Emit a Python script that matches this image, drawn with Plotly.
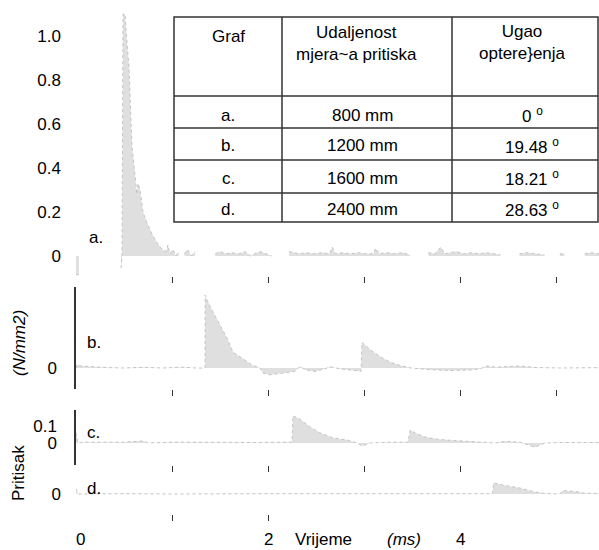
import plotly.graph_objects as go

W, H = 599, 550

# ---------------- data ----------------
N = None
t_a = [0.000, 0.030, N,
       0.469, 0.479, 0.490, 0.510, 0.531, 0.552, 0.583, 0.615, 0.635, 0.646, 0.667, 0.698,
       0.740, 0.792, 0.844, 0.896, 0.938, 0.958, 0.979, 1.010, 1.040, 1.070, N,
       1.130, 1.160, 1.200, 1.240, N,
       1.450, 1.500, 1.560, 1.620, 1.700, 1.760, 1.820, 1.860, 1.920, 1.980, 2.040, N,
       2.220, 2.260, 2.320, 2.400, 2.480, 2.560, 2.640, 2.670, 2.700, 2.780, 2.860, 2.940,
       3.020, 3.100, 3.120, 3.160, 3.240, 3.320, 3.400, 3.480, N,
       3.670, 3.740, 3.800, 3.840, 3.900, 3.960, 4.040, 4.120, 4.200, 4.280, 4.360, 4.420, N,
       4.620, 4.700, 4.780, 4.880, N,
       5.040, 5.090, N,
       5.300, 5.360, 5.450]
v_a = [-0.085, -0.085, N,
       -0.055, 0.0, 1.10, 1.10, 0.97, 0.86, 0.50, 0.36, 0.28, 0.33, 0.30, 0.20,
       0.15, 0.10, 0.06, 0.03, 0.02, 0.05, 0.01, 0.03, 0.0, 0.02, N,
       0.01, 0.03, 0.0, 0.02, N,
       0.01, 0.02, 0.01, 0.015, 0.01, 0.02, 0.0, 0.01, 0.02, 0.01, 0.0, N,
       0.02, 0.015, 0.01, 0.015, 0.01, 0.015, 0.01, 0.04, 0.01, 0.015, 0.01, 0.015,
       0.01, 0.01, 0.035, 0.01, 0.015, 0.01, 0.015, 0.005, N,
       0.015, 0.01, 0.04, 0.01, 0.015, 0.02, 0.01, 0.015, 0.01, 0.015, 0.01, 0.005, N,
       0.01, 0.015, 0.01, 0.005, N,
       0.01, 0.01, N,
       0.01, 0.015, 0.01]

t_b = [0.00, 0.01, 0.05, 0.15, 0.30, 0.50, 0.70, 0.90, 1.10, 1.25, 1.344, 1.345, 1.365,
       1.417, 1.500, 1.573, 1.635, 1.708, 1.833, 1.917, 1.948, 2.020, 2.177, 2.280, 2.333,
       2.385, 2.490, 2.594, 2.646, 2.750, 2.906, 2.969, 2.979, 3.083, 3.188, 3.270, 3.375,
       3.490, 3.688, 3.896, 4.104, 4.210, 4.280, 4.365, 4.470, 4.625, 4.780, 5.040, 5.450]
v_b = [0.0, 0.02, 0.012, 0.008, 0.003, 0.0, 0.004, 0.0, 0.005, 0.0, 0.0, 0.43, 0.40,
       0.34, 0.25, 0.176, 0.094, 0.065, 0.018, 0.0, -0.03, -0.04, -0.03, -0.02, 0.01,
       -0.01, -0.02, -0.005, 0.008, -0.005, -0.015, -0.02, 0.15, 0.10, 0.06, 0.035, 0.015,
       0.0, -0.01, -0.015, -0.012, -0.005, 0.012, 0.005, 0.008, 0.012, 0.003, 0.0, 0.002]

t_c = [0.00, 0.02, 0.10, 0.30, 0.50, 0.70, 0.75, 1.00, 1.30, 1.60, 1.90, 2.20, 2.25, 2.26,
       2.333, 2.438, 2.540, 2.677, 2.823, 2.927, 2.980, 3.060, 3.270, 3.458, 3.480, 3.530,
       3.635, 3.790, 4.000, 4.210, 4.365, 4.470, 4.625, 4.780, 4.885, 5.040, 5.450]
v_c = [0.06, 0.0, 0.005, 0.003, 0.005, 0.012, 0.0, 0.005, 0.003, 0.004, 0.003, 0.005, 0.005, 0.16,
       0.14, 0.094, 0.06, 0.03, 0.018, 0.0, -0.018, 0.0, 0.005, 0.005, 0.076, 0.06,
       0.035, 0.02, 0.012, 0.008, 0.0, 0.01, 0.005, -0.025, 0.0, 0.003, 0.003]

t_d = [0.00, 0.02, 0.50, 1.00, 2.00, 3.00, 4.00, 4.34, 4.35, 4.47, 4.625, 4.78, 4.885,
       5.04, 5.07, 5.20, 5.30, 5.45]
v_d = [0.03, 0.0, 0.002, 0.0, 0.002, 0.0, 0.002, 0.002, 0.065, 0.05, 0.035, 0.012, 0.003,
       0.0, 0.02, 0.015, 0.005, 0.003]

a_ticks = [0, 0.2, 0.4, 0.6, 0.8, 1.0]
a_ticktext = ["0", "0.2", "0.4", "0.6", "0.8", "1.0"]
c_ticks = [0, 0.1]
c_ticktext = ["0", "0.1"]
x_labels_vals = [0, 2, 4]
x_labels_text = ["0", "2", "4"]

panel_names = ["a.", "b.", "c.", "d."]
distances = ["800 mm", "1200 mm", "1600 mm", "2400 mm"]
angles = ["0", "19.48", "18.21", "28.63"]
header = ["Graf", "Udaljenost<br>mjera~a pritiska", "Ugao<br>optere}enja"]

# ---------------- helpers ----------------
def px(x):
    return x / W

def py(y):
    return 1 - y / H

def segments(t, v):
    seg_t, seg_v = [], []
    for a, b in zip(t, v):
        if a is None:
            if seg_t:
                yield seg_t, seg_v
            seg_t, seg_v = [], []
        else:
            seg_t.append(a)
            seg_v.append(b)
    if seg_t:
        yield seg_t, seg_v

FONT = "Liberation Sans, Arial, sans-serif"
FS = 17
fill_pat = dict(shape=".", fgcolor="#a4a4a4", bgcolor="white", size=2, solidity=0.7)

fig = go.Figure()
series = [(t_a, v_a, "x", "y"), (t_b, v_b, "x2", "y2"),
          (t_c, v_c, "x3", "y3"), (t_d, v_d, "x4", "y4")]
for t, v, xa, ya in series:
    for st, sv in segments(t, v):
        fig.add_trace(go.Scatter(
            x=st, y=sv, xaxis=xa, yaxis=ya, mode="lines",
            line=dict(color="#c4c4c4", width=1, dash="dot"),
            fill="tozeroy", fillcolor="rgba(0,0,0,0)", fillpattern=fill_pat,
            showlegend=False, hoverinfo="skip"))

XR = [0, (W - 76) / 96]
xdom = [px(76), 1]

def xax(anchor, tickvals):
    return dict(domain=xdom, range=XR, anchor=anchor, showgrid=False, zeroline=False,
                showline=False, ticks="outside", ticklen=6, tickwidth=1, tickcolor="#333",
                tickvals=tickvals, showticklabels=False, automargin=False, fixedrange=True)

def yax(dom, rng, tickvals, ticktext, line):
    return dict(domain=dom, range=rng, showgrid=False, zeroline=False, showline=line,
                linecolor="#333", linewidth=1.5, ticks="", tickvals=tickvals,
                ticktext=ticktext, ticklabelstandoff=14, automargin=False,
                tickfont=dict(size=FS, color="black", family=FONT), fixedrange=True)

def label(x, y, text, xanchor="center", **kw):
    return dict(x=px(x), y=py(y), xref="paper", yref="paper", text=text, showarrow=False,
                xanchor=xanchor, yanchor="middle", font=dict(size=FS), **kw)

ann = []
for name, (x, y) in zip(panel_names, [(87, 237), (85, 342), (85, 432), (85, 488)]):
    ann.append(label(x, y, name, xanchor="left"))
ann.append(label(19, 343, "<i>(N/mm2)</i>", textangle=-90))
ann.append(label(18, 473, "Pritisak", textangle=-90))
for v, txt in zip(x_labels_vals, x_labels_text):
    ann.append(dict(x=v, y=py(539), xref="x4", yref="paper", text=txt, showarrow=False,
                    xanchor="center", yanchor="middle",
                    xshift=4 if v == 0 else 0, font=dict(size=FS)))
ann.append(label(323, 539, "Vrijeme"))
ann.append(label(404, 539, "<i>(ms)</i>"))

# table
TL, TR, TT, TB = 174, 598, 17, 222
col_x = [282, 452]
row_y = [96, 128, 160, 193]
shapes = [dict(type="rect", xref="paper", yref="paper", x0=px(TL), x1=px(TR), y0=py(TB),
               y1=py(TT), line=dict(color="#333", width=1.5), fillcolor="white", layer="above")]
for cx in col_x:
    shapes.append(dict(type="line", xref="paper", yref="paper", x0=px(cx), x1=px(cx),
                       y0=py(TB), y1=py(TT), line=dict(color="#333", width=1.5)))
for ry in row_y:
    shapes.append(dict(type="line", xref="paper", yref="paper", x0=px(TL), x1=px(TR),
                       y0=py(ry), y1=py(ry), line=dict(color="#333", width=1.5)))

for txt, (x, y) in zip(header, [(228, 37), (356, 44), (522, 43)]):
    ann.append(label(x, y, txt))
row_centers = [115, 146, 178, 209]
for name, dist, ang, yc in zip(panel_names, distances, angles, row_centers):
    ann.append(label(228, yc, name))
    ann.append(label(362, yc, dist))
    ann.append(label(532, yc, ang + " <sup>o</sup>"))

fig.update_layout(
    width=W, height=H, autosize=False,
    margin=dict(l=0, r=0, t=0, b=0),
    paper_bgcolor="white", plot_bgcolor="white",
    font=dict(family=FONT, size=FS, color="black"),
    xaxis=xax("y", [1, 2, 3, 4, 5]),
    xaxis2=xax("y2", [1, 2, 3, 4, 5]),
    xaxis3=xax("y3", [1, 2, 3, 4]),
    xaxis4=xax("y4", [1, 2]),
    yaxis=yax([py(276), py(8)], [-(276 - 256) / 220, (256 - 8) / 220], a_ticks, a_ticktext, False),
    yaxis2=yax([py(389), py(287)], [-(389 - 368) / 170, (368 - 287) / 170], [0], ["0"], True),
    yaxis3=yax([py(465), py(410)], [-(465 - 443) / 170, (443 - 410) / 170], c_ticks, c_ticktext, True),
    yaxis4=yax([py(514), py(476)], [-(514 - 494) / 170, (494 - 476) / 170], [0], ["0"], False),
    shapes=shapes, annotations=ann, showlegend=False,
)

fig.write_html("out.html", config={"displayModeBar": False},
               post_script="document.body.style.margin='0';document.body.style.padding='0';")
